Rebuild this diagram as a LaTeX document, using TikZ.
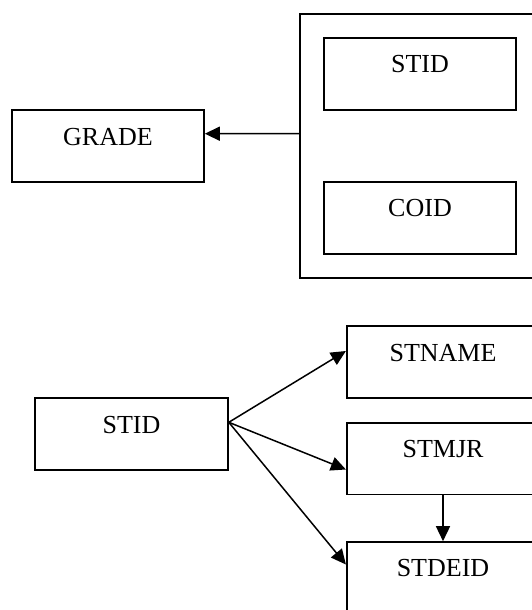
\documentclass[tikz,border=0pt]{standalone}
\usepackage{fontspec}
\setmainfont{Liberation Serif}
\usetikzlibrary{arrows.meta}
\begin{document}
\begin{tikzpicture}[x=1pt,y=1pt,
  box/.style={draw=black, line width=1.6pt, rectangle, minimum width=192pt, minimum height=72pt, inner sep=0pt},
  boxtext/.style={anchor=base, font=\fontsize{26}{30}\selectfont, inner sep=0pt},
  conn/.style={line width=1.5pt, -{Triangle[length=15pt,width=14pt]}}]
\useasboundingbox (0,0) rectangle (532,-610);
\clip (0,0) rectangle (532,-610);
% top group
\node[box] (grade) at (108,-146) {};
\node[boxtext] (gradet) at ([yshift=-36pt]grade.north) {GRADE};
\node[box, minimum width=240pt, minimum height=263.7pt] (outer) at (420,-145.85) {};
\node[box] (stidin) at (420,-74) {};
\node[boxtext] (stidint) at ([yshift=-35.3pt]stidin.north) {STID};
\node[box] (coid) at (420,-217.8) {};
\node[boxtext] (coidt) at ([yshift=-35.3pt]coid.north) {COID};
\draw[conn] ([yshift=12.2pt]outer.west) -- ([yshift=12.3pt]grade.east);
% bottom group
\node[box, minimum width=193pt] (stid) at (131.5,-434) {};
\node[boxtext] (stidt) at ([yshift=-36pt]stid.north) {STID};
\node[box, minimum width=192.6pt] (stname) at (443,-362) {};
\node[boxtext] (stnamet) at ([yshift=-36pt]stname.north) {STNAME};
\node[box, minimum width=192.6pt, minimum height=71.6pt] (stmjr) at (443,-458.5) {};
\node[boxtext] (stmjrt) at ([yshift=-35.7pt]stmjr.north) {STMJR};
\node[box, minimum width=192.6pt] (stdeid) at (443,-578) {};
\node[boxtext] (stdeidt) at ([yshift=-35pt]stdeid.north) {STDEID};
\coordinate (apex) at ([yshift=11.7pt]stid.east);
\draw[conn] (apex) -- ([yshift=11pt]stname.west);
\draw[conn] (apex) -- ([yshift=-11pt]stmjr.west);
\draw[conn] (apex) -- ([yshift=13.5pt]stdeid.west);
\draw[conn] (stmjr.south) -- (stdeid.north);
\end{tikzpicture}
\end{document}
